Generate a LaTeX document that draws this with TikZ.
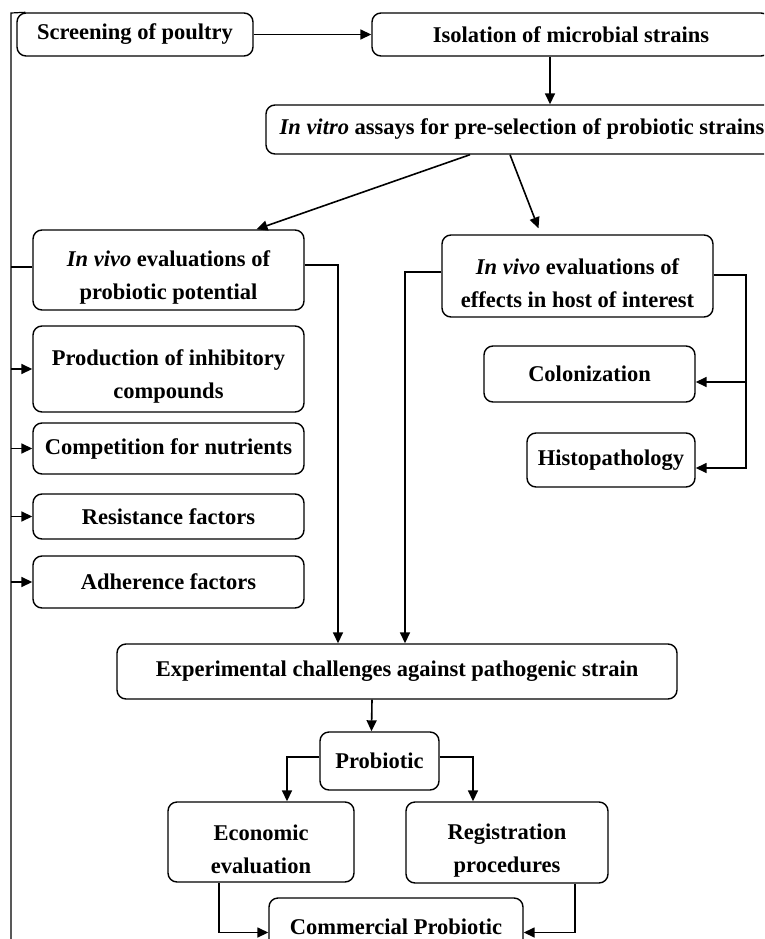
\documentclass[tikz,border=0pt]{standalone}
\usepackage{fontspec}
\setmainfont{Liberation Serif}
\usetikzlibrary{arrows.meta}
\tikzset{
  box/.style={draw, line width=1.4pt, rounded corners=9pt, align=center,
    inner sep=0pt, font=\fontsize{22.5}{33}\selectfont\bfseries},
  twoline/.style={box, execute at begin node={\rule{0pt}{64pt}}},
  link/.style={line width=1.6pt},
  arr/.style={link, -{Triangle[length=11pt,width=10pt]}}
}
\begin{document}
\begin{tikzpicture}[x=1pt,y=-1pt]
    \useasboundingbox (0,0) rectangle (764,939);
    \fill[white] (0,0) rectangle (764,939);
    \clip (0,0) rectangle (764,939);
    % Top row
    \node[box, minimum width=236pt, minimum height=43pt] (screen) at (135,34.5) {Screening of poultry};
    \node[box, minimum width=398pt, minimum height=43pt] (iso) at (571,34.5) {Isolation of microbial strains};
    \node[box, minimum width=512pt, minimum height=49pt] (vitro) at (522,129.5) {\textit{In vitro} assays for pre-selection of probiotic strains};
    % Left branch
    \node[twoline, minimum width=271pt, minimum height=80pt] (pot) at (168.5,270) {\textit{In vivo} evaluations of\\probiotic potential};
    \node[twoline, minimum width=271pt, minimum height=86pt] (prod) at (168.5,369) {Production of inhibitory\\compounds};
    \node[box, minimum width=271pt, minimum height=51pt] (comp) at (168.5,448.5) {Competition for nutrients};
    \node[box, minimum width=271pt, minimum height=45pt] (resi) at (168.5,516.5) {Resistance factors};
    \node[box, minimum width=271pt, minimum height=52pt] (adhe) at (168.5,582) {Adherence factors};
    % Right branch
    \node[twoline, minimum width=271pt, minimum height=82pt] (host) at (577.5,276) {\textit{In vivo} evaluations of\\effects in host of interest};
    \node[box, minimum width=211pt, minimum height=56pt] (colo) at (589.5,374) {Colonization};
    \node[box, minimum width=168pt, minimum height=54pt] (hist) at (611,460) {Histopathology};
    % Bottom part
    \node[box, minimum width=560pt, minimum height=55pt] (expe) at (397,671.5) {Experimental challenges against pathogenic strain};
    \node[box, minimum width=119pt, minimum height=58pt] (prob) at (379.5,761) {Probiotic};
    \node[twoline, minimum width=186pt, minimum height=80pt] (econ) at (261,842) {Economic\\evaluation};
    \node[twoline, minimum width=202pt, minimum height=81pt] (regi) at (507,842.5) {Registration\\procedures};
    \node[box, minimum width=254pt, minimum height=57pt] (comm) at (396,926.5) {Commercial Probiotic};
    % Left frame line
    \coordinate (ftop) at (11,13);
    \coordinate (fbot) at (11,939);
    \draw[line width=1.2pt] ([xshift=9pt]screen.north west) -- (ftop) -- (fbot);
    % Arrows
    \draw[arr] (screen.east) -- (iso.west);
    \draw[arr] ([xshift=-21pt]iso.south) -- ([xshift=-21pt]iso.south |- vitro.north);
    \draw[arr] ([xshift=-52pt]vitro.south) -- ([xshift=88pt]pot.north);
    \draw[arr] ([xshift=-12pt]vitro.south) -- ([xshift=-39pt,yshift=6pt]host.north);
    \draw[link] ([yshift=3pt]pot.west) -- ([yshift=3pt]pot.west -| ftop);
    \foreach \b in {prod,comp,resi,adhe}
        \draw[arr] (\b.west -| ftop) -- (\b.west);
    \draw[arr] ([yshift=5pt]pot.east) -| ([xshift=-59pt]expe.north);
    \draw[arr] ([yshift=4pt]host.west) -| ([xshift=8pt]expe.north);
    \coordinate (hostr) at ([xshift=32pt,yshift=1pt]host.east);
    \path ([yshift=-8pt]colo.east) coordinate (coloin);
    \path ([yshift=-8pt]hist.east) coordinate (histin);
    \draw[arr] ([yshift=1pt]host.east) -- (hostr) |- (histin);
    \draw[arr] (hostr |- coloin) -- (coloin);
    \draw[arr] ([xshift=-25pt]expe.south) -- ([xshift=-8pt]prob.north);
    \draw[arr] ([yshift=4pt]prob.west) -| ([xshift=26pt]econ.north);
    \draw[arr] ([yshift=4pt]prob.east) -| ([xshift=-34pt]regi.north);
    \draw[arr] ([xshift=-42pt]econ.south) |- ([yshift=-6pt]comm.west);
    \draw[arr] ([xshift=68pt]regi.south) |- ([yshift=-6pt]comm.east);
\end{tikzpicture}
\end{document}
